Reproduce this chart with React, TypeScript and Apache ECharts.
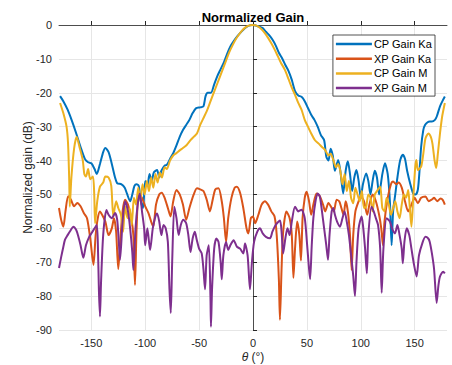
import React, { useEffect, useRef } from 'react';
import * as echarts from 'echarts';

const chartTitle = 'Normalized Gain';
const seriesNames = ['CP Gain Ka', 'XP Gain Ka', 'CP Gain M', 'XP Gain M'];
const seriesColors = ['#0072BD', '#D95319', '#EDB120', '#7E2F8E'];
const xTicks = [-150, -100, -50, 0, 50, 100, 150];

const cpGainKa: number[][] = [
  [-179, -21], [-176, -22.5], [-172, -25], [-168, -28.3], [-164, -32], [-160, -36], [-156, -39.5], [-153, -40.5],
  [-150, -40.8], [-147, -42.5], [-145, -44], [-142, -41], [-139, -37.5], [-137, -36.3], [-134, -37.5], [-131, -41],
  [-128, -45], [-126, -46.7], [-122, -47], [-119, -48], [-117, -49.7], [-114, -52], [-112, -50], [-110, -47.5],
  [-108, -47], [-106, -47.5], [-104, -52], [-102, -54], [-100, -46], [-98, -47.5], [-96, -44], [-94, -46],
  [-92, -43.5], [-89, -42.8], [-87, -45], [-85, -43], [-82, -41.5], [-80, -41.3], [-77, -39.5], [-74, -37.8],
  [-71, -35.5], [-68, -33], [-65, -31], [-62, -29.5], [-59, -28], [-56, -26], [-53, -24.6], [-49, -24.3],
  [-46, -24], [-44, -21], [-42, -20], [-39, -20], [-36, -17.5], [-33, -15], [-30, -13], [-27, -11],
  [-24, -8.5], [-21, -6.3], [-18, -4.8], [-15, -3.5], [-12, -2.4], [-9, -1.4], [-6, -0.6], [-3, -0.1],
  [0, 0], [3, -0.2], [6, -0.5], [9, -0.9], [12, -2], [15, -3], [18, -4.3], [21, -6],
  [24, -8.2], [27, -9.8], [30, -11.8], [33, -13.6], [36, -16.2], [39, -19.5], [42, -20.8], [45, -21.2],
  [48, -22.5], [51, -24.5], [54, -26.5], [57, -28], [60, -30], [63, -32.5], [66, -34], [68, -38.8],
  [70, -40], [72, -36.5], [74, -38.5], [76, -43], [79, -39.8], [81, -43], [83.7, -49.7], [86, -43],
  [88, -40.2], [90, -44], [92, -49], [94, -45], [96, -42.8], [98, -46], [100, -51], [102, -47],
  [105, -43.8], [107, -46], [109, -50], [111, -46], [113, -43], [115, -45], [117, -50], [120, -44],
  [122.4, -40.8], [125, -44], [127, -52], [128.6, -65], [130, -55], [132, -50], [134, -45], [136.5, -40],
  [139, -38.3], [141, -39.5], [143, -43], [146, -47], [148.6, -49.7], [151, -50], [153, -48.5], [154.5, -43],
  [156, -36], [158, -31], [159.6, -29.5], [162, -28.7], [164, -28.5], [166, -28.5], [168.8, -28], [170.5, -27],
  [173.5, -24], [176, -22.3], [178, -21.1]
];

const xpGainKa: number[][] = [
  [-180, -54], [-178, -57.5], [-176, -59.5], [-174, -55], [-171.5, -50.5], [-169, -51.5], [-166, -53.5], [-163, -52.5],
  [-160, -53.5], [-157, -55.5], [-154, -57], [-151, -63], [-148, -70.8], [-146, -62], [-144, -57], [-142, -55],
  [-140, -56], [-137, -58], [-134, -62], [-131, -60], [-129, -57], [-127, -61], [-125, -72], [-123, -63],
  [-121, -55], [-118.7, -51.6], [-116, -53], [-113, -57], [-111, -62], [-109.5, -76.7], [-108, -60], [-106, -49.7],
  [-103, -51], [-100, -53.5], [-97, -55.5], [-94.5, -58], [-92.5, -59.5], [-90, -53], [-87, -50], [-84.7, -49.5],
  [-82, -51], [-79, -54], [-76.5, -56.5], [-74, -52], [-71, -48.7], [-68, -50], [-65, -53], [-62, -57.5],
  [-59, -54], [-55, -50], [-52, -48.2], [-49, -48.5], [-46, -49], [-43, -51.5], [-40, -55], [-37.7, -52],
  [-35, -48.5], [-32, -48.2], [-29, -52], [-27, -57], [-25, -64], [-23, -57], [-20, -51], [-17, -48],
  [-15, -47.7], [-12, -49.5], [-9, -54], [-6, -60], [-4.3, -61.5], [-2, -57], [0, -56.5], [2, -58.5],
  [5, -56], [8, -53], [11, -52], [14, -53], [17, -55], [20, -56.5], [22, -62], [24, -75],
  [25, -87], [26.5, -72], [28, -61], [31, -55], [34, -57], [36, -62], [37.5, -74.6], [39, -66],
  [41, -58], [43, -62], [44.5, -69.5], [46, -57], [48, -51], [49.8, -49.2], [52, -52], [54, -56],
  [56, -53], [59, -49.7], [62, -50.5], [65, -53], [67, -55], [70, -52.5], [73, -54], [75, -55],
  [77.6, -51.6], [80, -52], [82, -54], [84, -56], [86, -52], [88, -55], [90, -62], [91.5, -72.3],
  [93, -62], [95, -55], [98, -52], [100, -50.5], [103, -52], [106, -56], [108, -53], [111, -50],
  [114, -52], [117, -56], [119, -60], [120.6, -65], [122, -58], [125, -51], [128, -47], [130, -46.2],
  [133, -47], [135, -46.5], [138, -48], [141, -52], [144, -55], [147, -53], [150, -51], [153, -52.6],
  [156, -51], [160, -50.6], [163, -52], [166, -51.5], [168, -51], [171, -52], [174, -51.2], [176, -51.6],
  [178, -53]
];

const cpGainM: number[][] = [
  [-179, -23], [-176, -26], [-173, -30], [-171.6, -35], [-170.5, -46], [-170, -53.6], [-168.5, -45], [-166, -36.5],
  [-163.6, -33], [-161, -36], [-158, -39.8], [-156.5, -44], [-155, -44.7], [-153, -42.5], [-151, -45.5], [-148.5, -44.7],
  [-147.3, -50], [-146.5, -58.5], [-144.5, -52], [-142, -47.7], [-139, -46.5], [-137, -44.7], [-134, -45], [-131.5, -47.5],
  [-129.6, -56.5], [-127, -52], [-125, -54], [-122.5, -56], [-120.5, -61], [-118.8, -53.5], [-116.5, -57], [-114.5, -54],
  [-112.5, -59], [-110.5, -51], [-108.5, -53], [-106.5, -48], [-104.5, -52], [-102.5, -47], [-100.5, -50], [-98.5, -46],
  [-96.5, -49], [-94.5, -45], [-92.5, -48], [-90.5, -44], [-88.5, -46.5], [-86.5, -43.5], [-84.5, -45], [-82, -42],
  [-80, -42.5], [-77, -40], [-74, -38.5], [-71, -37.8], [-68, -37], [-65, -36.3], [-61.5, -35.4], [-58, -34],
  [-55, -33], [-52, -32], [-49, -29.5], [-46, -27.5], [-43, -25.5], [-40, -23], [-37, -20.5], [-34, -18],
  [-31, -15.5], [-28, -13], [-25, -10.5], [-22, -8], [-19, -6], [-16, -4.2], [-13, -2.8], [-10, -1.6],
  [-7, -0.7], [-4, -0.2], [-1, 0], [2, -0.1], [5, -0.5], [8, -1.3], [11, -2.4], [14, -3.8],
  [17, -5.4], [20, -7.2], [23, -9.2], [26, -11.2], [29.7, -13.3], [33, -16], [36, -18.5], [39, -20.6],
  [42, -23], [45, -25], [48, -28], [51, -30], [54, -32], [57.5, -34], [61, -35], [64, -36],
  [67, -36.9], [70, -38.5], [72, -38], [74.5, -39.8], [77, -42], [79, -41], [81, -43], [83, -47],
  [85, -44], [87, -49], [89, -46], [91, -51], [93, -52.6], [95, -48], [97, -50], [99, -52],
  [101, -49], [103, -54], [105, -53.6], [107, -50], [109, -51], [111, -55], [113, -50], [115, -49],
  [118, -47.7], [120, -54], [122, -55], [124, -51], [126, -53], [128, -56], [130, -54], [132, -52],
  [134, -55], [136, -57], [138, -53], [140, -50], [142, -51], [144, -48.7], [145.5, -54], [147, -59.5],
  [148.5, -52], [150.5, -42], [151.6, -39.8], [153, -42.8], [156, -41.8], [158, -38], [160, -33.5], [162.7, -32],
  [165, -33], [166.5, -35], [168.5, -40], [170, -42.2], [171.5, -38], [173.5, -32], [175.5, -27], [178, -23]
];

const xpGainM: number[][] = [
  [-180, -71.7], [-178, -68.5], [-176, -65.5], [-174.5, -63.4], [-172, -62], [-169, -60.5], [-166.7, -59.5], [-164, -60.5],
  [-162, -62.5], [-160, -65], [-157.4, -68.7], [-155, -65], [-152, -62.5], [-150, -61.5], [-147, -60], [-145, -59],
  [-144, -64], [-143, -78], [-142, -86], [-141, -76], [-139, -62], [-136, -54.6], [-134, -56], [-131, -57],
  [-128, -55.5], [-126, -57.5], [-124.5, -64], [-123.4, -69.3], [-121, -58], [-118.7, -52], [-116, -55], [-114, -60],
  [-112, -67], [-111, -72.3], [-109, -60], [-107, -53], [-105, -49.7], [-103, -55], [-101, -60], [-100, -65],
  [-98, -60], [-95.5, -66.4], [-93, -60], [-91, -57], [-89, -55.6], [-87, -58], [-85, -62], [-83, -59],
  [-81, -60], [-79, -64], [-77.5, -78], [-76.3, -85], [-75, -70], [-73, -53.6], [-71, -57], [-69, -62],
  [-67, -59], [-64.6, -57.5], [-62, -58.5], [-60, -62], [-58, -67], [-56, -63], [-54, -61], [-52.2, -63.4],
  [-50, -66], [-47.6, -67.4], [-46, -72], [-44.5, -78], [-43, -68], [-41, -65], [-39.5, -80], [-39, -89],
  [-38, -78], [-36, -66], [-34, -63], [-32, -64], [-30, -70], [-29, -75], [-27.5, -68], [-25, -64],
  [-23, -66.4], [-21, -65], [-18, -63.5], [-15, -65.4], [-12, -66], [-9, -67.4], [-7.4, -64.5], [-5, -68],
  [-2.8, -78], [-1, -70], [1, -64], [4, -61], [6.5, -60], [9, -61.5], [12, -62.5], [15.8, -62.9],
  [18, -61], [21, -59], [25, -57.7], [26.5, -61], [28, -67.4], [30, -63], [32, -60], [34, -62],
  [36, -58], [39, -53.6], [42, -55], [45, -54.5], [48, -57], [50, -64], [52, -72], [53, -75],
  [54.5, -65], [56, -57], [58, -52], [60, -49.7], [62, -50.6], [64, -55], [66, -60], [68, -65],
  [69.6, -69.3], [71, -62], [73, -55], [74.5, -54], [76, -56], [78, -58], [80.7, -59.5], [83, -57],
  [85, -55], [87, -58], [89, -62], [91.5, -69.3], [93, -74], [94.6, -80], [96, -70], [98, -60],
  [100.8, -56.5], [102, -59], [104, -66], [105.6, -73.3], [107, -62], [110, -53.6], [112, -55], [114, -57],
  [116, -59], [118, -66], [119.4, -79], [121, -66], [124, -57], [127, -58], [129, -60], [131.7, -61.5],
  [134, -59], [136, -62], [138, -66], [139, -70.3], [140.5, -64], [142.6, -60], [145, -62], [147, -66],
  [149, -70], [151.8, -74.2], [154, -68], [157, -64.5], [160, -62.5], [162.6, -63], [164, -64], [166, -67.4],
  [168, -72], [170.4, -82], [172, -77], [173.5, -74.2], [176.5, -72.8], [178, -73.3]
];

const seriesData = [cpGainKa, xpGainKa, cpGainM, xpGainM];

export default function App() {
  const ref = useRef<HTMLDivElement>(null);
  useEffect(() => {
    document.body.style.margin = '0';
    const chart = echarts.init(ref.current as HTMLDivElement, null, { renderer: 'svg' });
    const font = 'Liberation Sans, Arial, Helvetica, sans-serif';
    chart.setOption({
      animation: false,
      backgroundColor: '#ffffff',
      textStyle: { fontFamily: font },
      graphic: [
        {
          type: 'text',
          x: 253,
          y: 17,
          style: {
            text: chartTitle,
            textAlign: 'center',
            textVerticalAlign: 'middle',
            font: 'bold 13px ' + font,
            fill: '#000000',
          },
        },
      ],
      grid: { left: 59, right: 5, top: 25, bottom: 35, outerBoundsMode: 'none', containLabel: false },
      legend: {
        data: seriesNames,
        orient: 'vertical',
        right: 17,
        top: 35,
        icon: 'rect',
        itemWidth: 36,
        itemHeight: 2.5,
        itemGap: 2.7,
        padding: [3, 3, 2, 3],
        backgroundColor: '#ffffff',
        borderColor: '#262626',
        borderWidth: 0.8,
        textStyle: { fontSize: 11, lineHeight: 12, color: '#000000', fontFamily: font, padding: [0, 0, 0, -3] },
      },
      xAxis: {
        type: 'value',
        min: -180,
        max: 180,
        name: '{i|θ} (°)',
        nameLocation: 'middle',
        nameGap: 21,
        nameMoveOverlap: false,
        nameTextStyle: {
          fontSize: 12,
          color: '#262626',
          rich: { i: { fontStyle: 'italic', fontSize: 12, color: '#262626', fontFamily: font } },
        },
        axisLine: { show: true, lineStyle: { color: '#262626', width: 0.8 } },
        axisTick: { show: true, inside: true, length: 4, customValues: xTicks, lineStyle: { color: '#262626' } },
        axisLabel: { customValues: xTicks, color: '#262626', fontSize: 11, margin: 7 },
        splitLine: { show: true, lineStyle: { color: '#e6e6e6', width: 1 } },
      },
      yAxis: {
        type: 'value',
        min: -90,
        max: 0,
        interval: 10,
        name: 'Normalized gain (dB)',
        nameLocation: 'middle',
        nameGap: 25,
        nameMoveOverlap: false,
        nameTextStyle: { fontSize: 12, color: '#262626' },
        axisLine: { show: true, lineStyle: { color: '#262626', width: 0.8 } },
        axisTick: { show: true, inside: true, length: 4, lineStyle: { color: '#262626' } },
        axisLabel: { color: '#262626', fontSize: 11, margin: 7 },
        splitLine: { show: true, lineStyle: { color: '#e6e6e6', width: 1 } },
      },
      series: seriesNames.map((name, i) => ({
        name,
        type: 'line',
        data: seriesData[i],
        symbol: 'none',
        showSymbol: false,
        smooth: 0.25,
        color: seriesColors[i],
        lineStyle: { color: seriesColors[i], width: 2 },
        z: 2 + i,
      })),
    });
    return () => chart.dispose();
  }, []);
  return <div ref={ref} style={{ width: 452, height: 365 }} />;
}
